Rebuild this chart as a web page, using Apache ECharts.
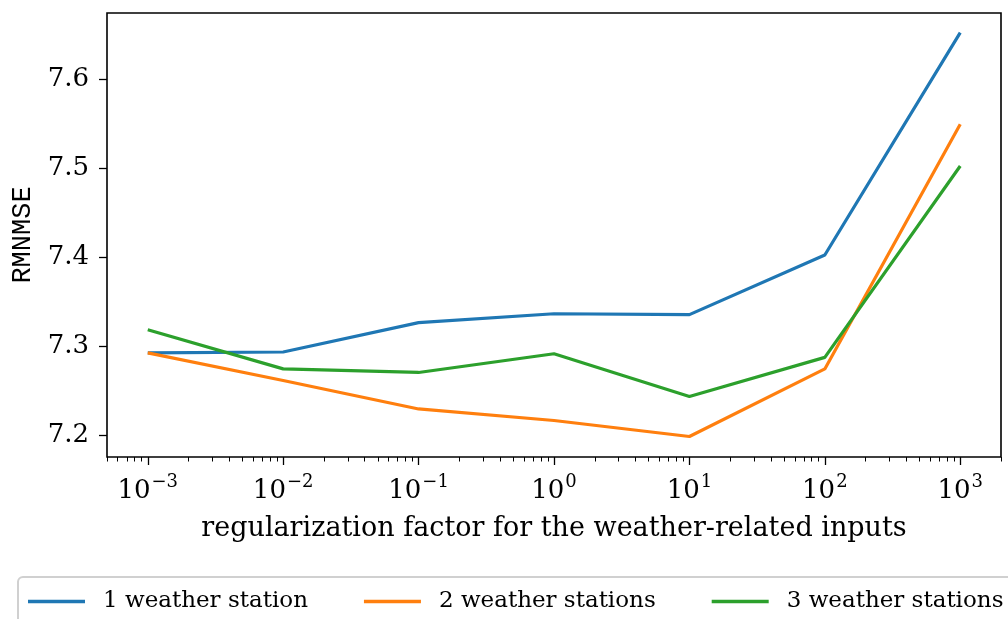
<!DOCTYPE html>
<html>
<head>
<meta charset="utf-8">
<script src="https://cdn.jsdelivr.net/npm/echarts@6/dist/echarts.min.js"></script>
<style>
  html, body { margin: 0; padding: 0; background: #fff; }
  #main { width: 1008px; height: 619px; }
</style>
</head>
<body>
<div id="main"></div>
<script>
// regularization factors (x) and RMNMSE per number of weather stations
var factors = [0.001, 0.01, 0.1, 1, 10, 100, 1000];
var oneStation = [7.292, 7.293, 7.326, 7.336, 7.335, 7.402, 7.652];
var twoStations = [7.292, 7.261, 7.229, 7.216, 7.198, 7.274, 7.549];
var threeStations = [7.318, 7.274, 7.270, 7.291, 7.243, 7.287, 7.502];
var seriesNames = ['1 weather station', '2 weather stations', '3 weather stations'];
var yTicks = [7.2, 7.3, 7.4, 7.5, 7.6];

var colors = ['#1f77b4', '#ff7f0e', '#2ca02c'];
var serif = "'DejaVu Serif', 'Liberation Serif', serif";

// minor ticks at 2..9 x 10^k inside the axis range
var minorTicks = [];
for (var k = -4; k <= 3; k++) {
  for (var m = 2; m <= 9; m++) {
    var v = m * Math.pow(10, k);
    if (v >= 0.0005 && v <= 2000) minorTicks.push(v);
  }
}

function pairs(ys) {
  return factors.map(function (x, i) { return [x, ys[i]]; });
}

var chart = echarts.init(document.getElementById('main'));

var option = {
  animation: false,
  grid: {
    left: 107, right: 7, top: 13, bottom: 162,
    outerBoundsMode: 'none',
    show: true, borderColor: '#000', borderWidth: 1.6, backgroundColor: 'transparent'
  },
  legend: {
    left: 18, top: 577,
    width: 1400,
    padding: [13, 12, 10, 10],
    itemGap: 56,
    icon: 'rect',
    itemWidth: 57, itemHeight: 3.5,
    borderColor: '#d0d0d0', borderWidth: 2, borderRadius: 5,
    backgroundColor: '#fff',
    textStyle: { fontFamily: serif, fontSize: 23, color: '#000', padding: [0, 0, 0, 13] },
    data: seriesNames
  },
  xAxis: [
    {
      type: 'log', logBase: 10, min: 0.0005, max: 2000,
      name: 'regularization factor for the weather-related inputs',
      nameLocation: 'middle', nameGap: 58,
      nameTextStyle: { fontFamily: serif, fontSize: 27, color: '#000' },
      axisLine: { show: false },
      splitLine: { show: false },
      axisTick: { show: true, length: 8, lineStyle: { color: '#000', width: 1.3 }, customValues: factors },
      axisLabel: {
        customValues: factors,
        margin: 16,
        formatter: function (v) {
          var e = Math.round(Math.log10(v));
          var s = e < 0 ? '\u2212' + (-e) : '' + e;
          return '{b|10}{s|' + s + '}';
        },
        rich: {
          b: { fontFamily: serif, fontSize: 26, color: '#000', verticalAlign: 'bottom' },
          s: { fontFamily: serif, fontSize: 18, color: '#000', verticalAlign: 'top', padding: [0, 0, 13, 1] }
        }
      }
    },
    {
      type: 'log', logBase: 10, min: 0.0005, max: 2000,
      position: 'bottom',
      axisLine: { show: false },
      splitLine: { show: false },
      axisLabel: { show: false },
      axisTick: { show: true, length: 4.5, lineStyle: { color: '#000', width: 1 }, customValues: minorTicks }
    }
  ],
  yAxis: {
    type: 'value', min: 7.175, max: 7.674,
    name: 'RMNMSE', nameLocation: 'middle', nameGap: 70,
    nameTextStyle: { fontFamily: "'Liberation Mono', 'DejaVu Sans Mono', monospace", fontSize: 27, color: '#000' },
    axisLine: { show: false },
    splitLine: { show: false },
    axisTick: { show: true, length: 8, lineStyle: { color: '#000', width: 1.3 }, customValues: yTicks },
    axisLabel: {
      customValues: yTicks,
      margin: 18,
      fontFamily: serif, fontSize: 26, color: '#000',
      formatter: function (v) { return v.toFixed(1); }
    }
  },
  series: [
    { name: seriesNames[0], type: 'line', data: pairs(oneStation) },
    { name: seriesNames[1], type: 'line', data: pairs(twoStations) },
    { name: seriesNames[2], type: 'line', data: pairs(threeStations) }
  ].map(function (s, i) {
    s.symbol = 'none';
    s.color = colors[i];
    s.lineStyle = { color: colors[i], width: 3.2 };
    s.xAxisIndex = 0;
    return s;
  })
};

chart.setOption(option);
</script>
</body>
</html>
